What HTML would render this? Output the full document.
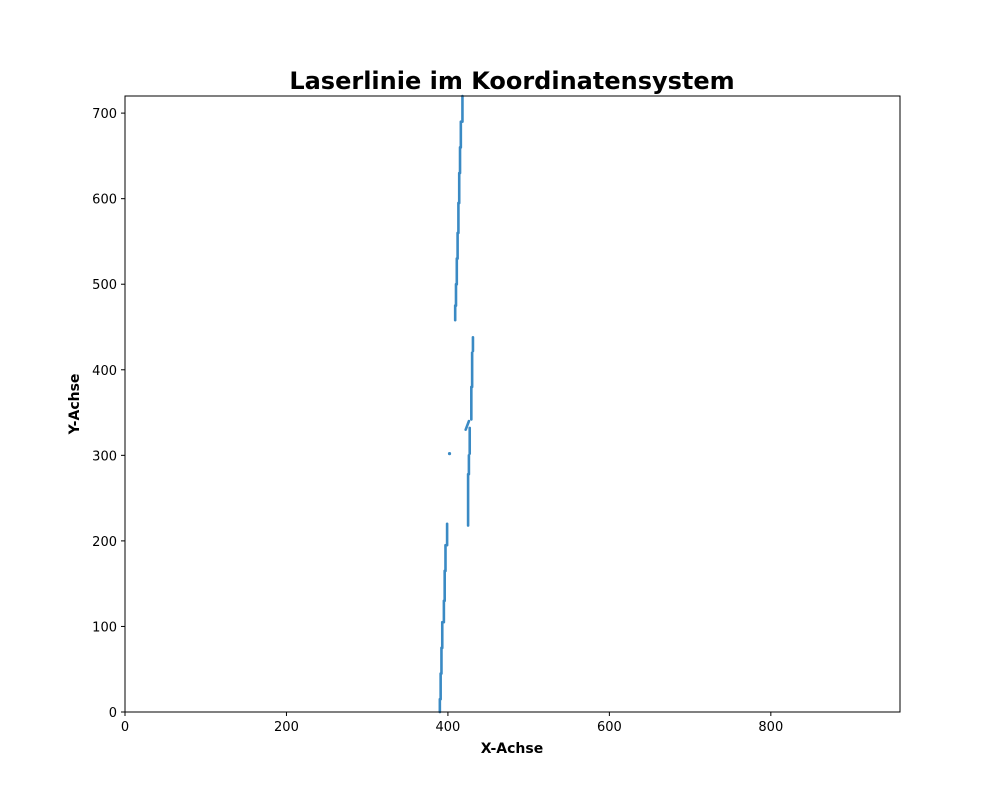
<!DOCTYPE html>
<html><head><meta charset="utf-8"><style>
body{margin:0;background:#fff;font-family:"DejaVu Sans",sans-serif}
</style></head><body>
<svg id="chart" width="1000" height="800" xmlns="http://www.w3.org/2000/svg" font-family="DejaVu Sans, sans-serif">
<rect width="1000" height="800" fill="#fff"/>
<text x="512" y="89" text-anchor="middle" font-size="24" font-weight="bold">Laserlinie im Koordinatensystem</text>
<g id="marks"></g>
<rect x="125" y="96" width="775" height="616" fill="none" stroke="#000" stroke-width="1"/>
<g id="xt"></g>
<g id="yt"></g>
<text x="512" y="753" text-anchor="middle" font-size="14" font-weight="bold">X-Achse</text>
<text transform="translate(79,404) rotate(-90)" text-anchor="middle" font-size="14" font-weight="bold">Y-Achse</text>
</svg>
<script>
// segments: x value, y start, y end
const segX = [390,391,392,393,395,396,397,399, 425,426,427,429,430,431, 409,410,411,412,413,414,415,416,418];
const segY0 = [0,15,45,75,105,130,165,195, 218,278,302,342,380,422, 458,475,500,530,560,595,630,660,690];
const segY1 = [15,45,75,105,130,165,195,220, 278,300,332,380,420,438, 475,500,530,560,595,630,660,690,720];
const diagX = [422,426];
const diagY = [330,340];
const outlierX = [402];
const outlierY = [302];
const xTicks = [0,200,400,600,800];
const yTicks = [0,100,200,300,400,500,600,700];
const sx = v => 125 + v * 775 / 960;
const sy = v => 712 - v * 616 / 720;
const NS = "http://www.w3.org/2000/svg";
const marks = document.getElementById('marks');
function line(x1,y1,x2,y2,name){
  const l = document.createElementNS(NS,'line');
  l.setAttribute('x1',x1);l.setAttribute('y1',y1);l.setAttribute('x2',x2);l.setAttribute('y2',y2);
  l.setAttribute('stroke','#3a8ac4');l.setAttribute('stroke-width','2.6');l.setAttribute('stroke-linecap','round');
  
  
  marks.appendChild(l);
}
for (let i=0;i<segX.length;i++) line(sx(segX[i]),sy(segY0[i]),sx(segX[i]),sy(segY1[i]),'point-segment');
line(sx(diagX[0]),sy(diagY[0]),sx(diagX[1]),sy(diagY[1]),'point-segment');
for (let i=0;i<outlierX.length;i++){
  const c=document.createElementNS(NS,'circle');
  c.setAttribute('cx',sx(outlierX[i]));c.setAttribute('cy',sy(outlierY[i]));c.setAttribute('r','1.6');c.setAttribute('fill','#3a8ac4');
  
  
  marks.appendChild(c);
}
const xt=document.getElementById('xt'), yt=document.getElementById('yt');
xTicks.forEach(v=>{
  const t=document.createElementNS(NS,'line');
  t.setAttribute('x1',sx(v));t.setAttribute('x2',sx(v));t.setAttribute('y1',712);t.setAttribute('y2',716);t.setAttribute('stroke','#000');
  
  
  xt.appendChild(t);
  const s=document.createElementNS(NS,'text');
  s.setAttribute('x',sx(v));s.setAttribute('y',731);s.setAttribute('text-anchor','middle');s.setAttribute('font-size','13');
  s.textContent=v;
  
  
  xt.appendChild(s);
});
yTicks.forEach(v=>{
  const t=document.createElementNS(NS,'line');
  t.setAttribute('x1',121);t.setAttribute('x2',125);t.setAttribute('y1',sy(v));t.setAttribute('y2',sy(v));t.setAttribute('stroke','#000');
  
  
  yt.appendChild(t);
  const s=document.createElementNS(NS,'text');
  s.setAttribute('x',117);s.setAttribute('y',sy(v)+5);s.setAttribute('text-anchor','end');s.setAttribute('font-size','13');
  s.textContent=v;
  
  
  yt.appendChild(s);
});
</script>
</body></html>
